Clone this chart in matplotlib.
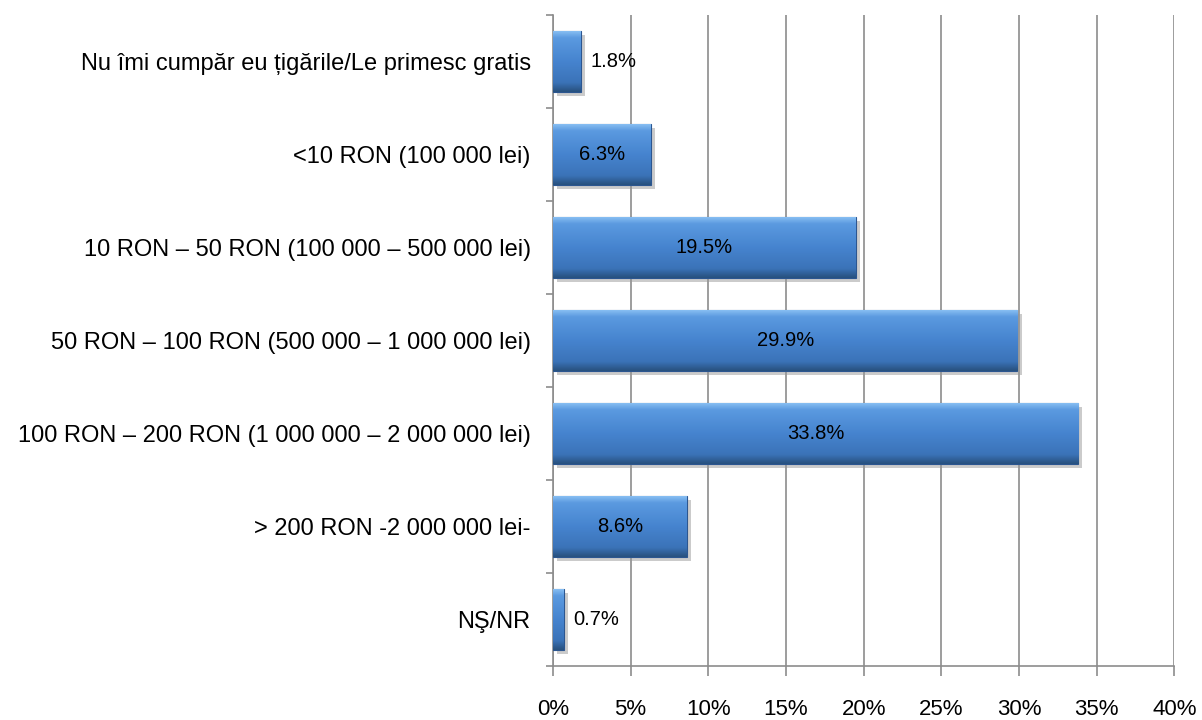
import matplotlib
matplotlib.use("Agg")
import matplotlib.pyplot as plt
import matplotlib.patheffects as pe
import numpy as np
from matplotlib.colors import LinearSegmentedColormap
from matplotlib.ticker import FuncFormatter, MultipleLocator

plt.rcParams['font.family'] = ['Liberation Sans', 'DejaVu Sans']

categories = [
    "Nu îmi cumpăr eu țigările/Le primesc gratis",
    "<10 RON (100 000 lei)",
    "10 RON – 50 RON (100 000 – 500 000 lei)",
    "50 RON – 100 RON (500 000 – 1 000 000 lei)",
    "100 RON – 200 RON (1 000 000 – 2 000 000 lei)",
    "> 200 RON -2 000 000 lei-",
    "NŞ/NR",
]
values = [1.8, 6.3, 19.5, 29.9, 33.8, 8.6, 0.7]
value_labels = ["1.8%", "6.3%", "19.5%", "29.9%", "33.8%", "8.6%", "0.7%"]

fig = plt.figure(figsize=(12.02, 7.2), dpi=100)
ax = fig.add_axes([0.46, 0.075, 0.517, 0.904])

y = np.arange(len(categories))
bars = ax.barh(y, values, height=0.66, color="#4683cc", edgecolor="#2c5690",
               linewidth=0.8, zorder=3)

# vertical gradient for the bevelled look
cmap = LinearSegmentedColormap.from_list(
    "bev", [(0, "#8cc2f4"), (0.12, "#5b9ae0"), (0.5, "#4684cf"),
            (0.85, "#3b73b8"), (1, "#28517f")])
grad = np.linspace(0, 1, 100).reshape(-1, 1)
for b in bars:
    x0, y0 = b.get_x(), b.get_y()
    w, h = b.get_width(), b.get_height()
    b.set_path_effects([pe.SimplePatchShadow(offset=(3, -3), shadow_rgbFace="#999999", alpha=0.5),
                        pe.Normal()])
    im = ax.imshow(grad, cmap=cmap, aspect="auto", extent=(x0, x0 + w, y0 + h, y0),
                   zorder=3.5, interpolation="bicubic")
    im.set_clip_path(b)

for b, v, lab in zip(bars, values, value_labels):
    cy = b.get_y() + b.get_height() / 2
    if v < 3:
        ax.text(v + 0.6, cy, lab, va="center", ha="left", fontsize=14.5, zorder=5)
    else:
        ax.text(v / 2, cy, lab, va="center", ha="center", fontsize=14.5, zorder=5)

ax.set_xlim(0, 40)
ax.set_ylim(len(categories) - 0.5, -0.5)
ax.xaxis.set_major_locator(MultipleLocator(5))
ax.xaxis.set_major_formatter(FuncFormatter(lambda v, p: f"{v:.0f}%"))
ax.grid(axis="x", color="#8c8c8c", linewidth=1.2, zorder=0)

ax.set_yticks(y)
ax.set_yticklabels(categories)
ax.set_yticks(np.arange(-0.5, len(categories), 1), minor=True)
ax.tick_params(axis="y", which="major", length=0, pad=16, labelsize=17)
ax.tick_params(axis="y", which="minor", length=5, color="#8c8c8c", width=1.2)
ax.tick_params(axis="x", which="major", length=7, color="#8c8c8c", width=1.2,
               pad=17, labelsize=16)

for side in ["top", "right"]:
    ax.spines[side].set_visible(False)
for side in ["left", "bottom"]:
    ax.spines[side].set_color("#8c8c8c")
    ax.spines[side].set_linewidth(1.2)

fig.savefig("out.png", dpi=100)
